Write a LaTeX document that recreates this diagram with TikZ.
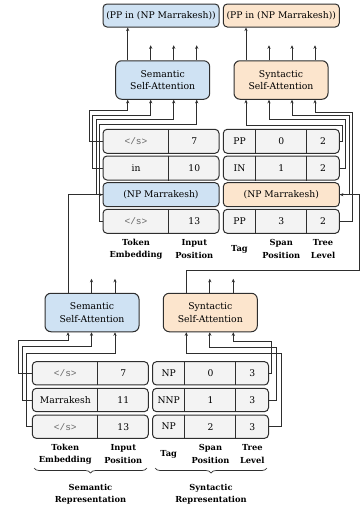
\documentclass[tikz,border=0pt]{standalone}
\usepackage{fontspec}
\setmainfont{DejaVu Serif}
\newfontfamily\monofont{Liberation Mono}
\usetikzlibrary{arrows.meta,decorations.pathreplacing}
\definecolor{semblue}{HTML}{CFE2F3}
\definecolor{synorange}{HTML}{FCE5CD}
\definecolor{rowgrey}{HTML}{F3F3F3}
\definecolor{linecol}{HTML}{2E2E2E}
\definecolor{toktext}{HTML}{666666}
\begin{document}
\begin{tikzpicture}[x=1pt,y=-1pt,
  cellbox/.style={draw=linecol, line width=1pt, rounded corners=4pt, inner sep=0pt, minimum width=116pt, minimum height=24pt, font=\fontsize{9.2}{11}\selectfont},
  rowbox/.style={cellbox, fill=rowgrey},
  lrowbox/.style={rowbox, minimum height=23.3pt},
  attn/.style={draw=linecol, line width=1pt, rounded corners=6pt, minimum width=94pt, minimum height=38.5pt, inner sep=0pt, align=center, font=\fontsize{9.3}{12.7}\selectfont},
  txt/.style={inner sep=0pt, font=\fontsize{9.2}{11}\selectfont},
  tok/.style={inner sep=0pt, font=\monofont\fontsize{9.5}{11}\selectfont, text=toktext},
  lab/.style={inner sep=0pt, align=center, font=\bfseries\fontsize{8.3}{12.3}\selectfont},
  wire/.style={draw=linecol, line width=0.9pt},
  arr/.style={wire, -{Stealth[length=3.6pt,width=3.2pt]}},
  divider/.style={draw=linecol, line width=0.9pt},
  bracestyle/.style={draw=linecol, line width=0.7pt, decorate, decoration={brace, amplitude=5pt, mirror}},
]
\useasboundingbox (0,0) rectangle (363,506);

% ---------- upper top boxes ----------
\node[cellbox, fill=semblue, minimum height=23pt] (topsem) at (161,15.5) {(PP in (NP Marrakesh))};
\node[cellbox, fill=synorange, minimum height=23pt] (topsyn) at (281.3,15.5) {(PP in (NP Marrakesh))};

% ---------- upper self-attention ----------
\node[attn, fill=semblue] (usem) at (162.7,80) {Semantic\\Self-Attention};
\node[attn, fill=synorange] (usyn) at (281,80) {Syntactic\\Self-Attention};

\foreach \i/\d in {1/12.5,2/35.5,3/58.5,4/81.5}{
  \coordinate (usemi\i) at ([xshift=\d pt]usem.south west);
  \coordinate (usemo\i) at ([xshift=\d pt]usem.north west);
  \coordinate (usemt\i) at ([xshift=\d pt,yshift=15pt]usem.north west);
  \coordinate (usyni\i) at ([xshift=\d pt]usyn.south west);
  \coordinate (usyno\i) at ([xshift=\d pt]usyn.north west);
  \coordinate (usynt\i) at ([xshift=\d pt,yshift=15pt]usyn.north west);
}
\draw[arr] (usemo1) -- (usemo1 |- topsem.south);
\draw[arr] (usyno1) -- (usyno1 |- topsyn.south);
\foreach \i in {2,3,4}{
  \draw[arr] (usemo\i) -- (usemt\i);
  \draw[arr] (usyno\i) -- (usynt\i);
}

% ---------- upper left table ----------
\node[rowbox] (u1) at (161,141.3) {};
\node[rowbox] (u2) at (161,168) {};
\node[cellbox, fill=semblue] (u3) at (161,194.7) {(NP Marrakesh)};
\node[rowbox] (u4) at (161,221.3) {};
\foreach \r in {u1,u2,u4}{
  \draw[divider] ([xshift=66pt]\r.north west) -- ([xshift=66pt]\r.south west);
}
\node[tok] (u1a) at (136,141.3) {</s>};
\node[txt] (u1b) at (194.3,141.3) {7};
\node[txt] (u2a) at (136,168) {in};
\node[txt] (u2b) at (194.3,168) {10};
\node[tok] (u4a) at (136,221.3) {</s>};
\node[txt] (u4b) at (194.3,221.3) {13};

% ---------- upper right table ----------
\node[rowbox] (r1) at (281.3,141.3) {};
\node[rowbox] (r2) at (281.3,168) {};
\node[cellbox, fill=synorange] (r3) at (281.3,194.7) {(NP Marrakesh)};
\node[rowbox] (r4) at (281.3,221.3) {};
\foreach \r in {r1,r2,r4}{
  \draw[divider] ([xshift=32.5pt]\r.north west) -- ([xshift=32.5pt]\r.south west);
  \draw[divider] ([xshift=83.5pt]\r.north west) -- ([xshift=83.5pt]\r.south west);
}
\node[txt] (r1a) at (239.5,141.3) {PP};
\node[txt] (r1b) at (281.3,141.3) {0};
\node[txt] (r1c) at (323,141.3) {2};
\node[txt] (r2a) at (239.5,168) {IN};
\node[txt] (r2b) at (281.3,168) {1};
\node[txt] (r2c) at (323,168) {2};
\node[txt] (r4a) at (239.5,221.3) {PP};
\node[txt] (r4b) at (281.3,221.3) {3};
\node[txt] (r4c) at (323,221.3) {2};

% ---------- upper labels ----------
\node[lab] (ul1) at (136,249) {Token\\Embedding};
\node[lab] (ul2) at (194.3,249) {Input\\Position};
\node[lab] (ul3) at (239.5,249) {Tag};
\node[lab] (ul4) at (281.3,249) {Span\\Position};
\node[lab] (ul5) at (323,249) {Tree\\Level};

% ---------- upper wires ----------
\draw[arr] (u1.west) -| (89,110.7) -| (usemi1);
\draw[arr] (u2.west) -| (92.7,115) -| (usemi2);
\draw[arr] (u3.west) -| (96,119.3) -| (usemi3);
\draw[arr] (u4.west) -| (99.7,124.3) -| (usemi4);

\draw[arr] (r1.east) -| (342.3,125) -| (usyni1);
\draw[arr] (r2.east) -| (345.7,119.3) -| (usyni2);
\draw[arr] (r3.east) -| (349,115.7) -| (usyni3);
\draw[arr] (r4.east) -| (352.3,112) -| (usyni4);

% ---------- lower self-attention ----------
\node[attn, fill=semblue] (lsem) at (92,312.5) {Semantic\\Self-Attention};
\node[attn, fill=synorange] (lsyn) at (210.3,312.5) {Syntactic\\Self-Attention};
\foreach \i/\d in {1/23.5,2/47,3/70.5}{
  \coordinate (lsemi\i) at ([xshift=\d pt]lsem.south west);
  \coordinate (lsemo\i) at ([xshift=\d pt]lsem.north west);
  \coordinate (lsemt\i) at ([xshift=\d pt,yshift=14pt]lsem.north west);
  \coordinate (lsyni\i) at ([xshift=\d pt]lsyn.south west);
  \coordinate (lsyno\i) at ([xshift=\d pt]lsyn.north west);
  \coordinate (lsynt\i) at ([xshift=\d pt,yshift=14pt]lsyn.north west);
}
\foreach \i in {2,3}{
  \draw[arr] (lsemo\i) -- (lsemt\i);
  \draw[arr] (lsyno\i) -- (lsynt\i);
}
\coordinate (feedturn) at (359,270.7);
\draw[arr] (lsemo1) |- (u3.west);
\draw[arr] (lsyno1) |- (feedturn) |- (r3.east);

% ---------- lower left table ----------
\node[lrowbox] (l1) at (90.3,373.3) {};
\node[lrowbox] (l2) at (90.3,400) {};
\node[lrowbox] (l3) at (90.3,426.7) {};
\foreach \r in {l1,l2,l3}{
  \draw[divider] ([xshift=66pt]\r.north west) -- ([xshift=66pt]\r.south west);
}
\node[tok] (l1a) at (65.3,373.3) {</s>};
\node[txt] (l1b) at (123.3,373.3) {7};
\node[txt] (l2a) at (65.3,400) {Marrakesh};
\node[txt] (l2b) at (123.3,400) {11};
\node[tok] (l3a) at (65.3,426.7) {</s>};
\node[txt] (l3b) at (123.3,426.7) {13};

% ---------- lower right table ----------
\node[lrowbox] (m1) at (210.5,373.3) {};
\node[lrowbox] (m2) at (210.5,400) {};
\node[lrowbox] (m3) at (210.5,426.7) {};
\foreach \r in {m1,m2,m3}{
  \draw[divider] ([xshift=32.5pt]\r.north west) -- ([xshift=32.5pt]\r.south west);
  \draw[divider] ([xshift=83.5pt]\r.north west) -- ([xshift=83.5pt]\r.south west);
}
\node[txt] (m1a) at (168.7,373.3) {NP};
\node[txt] (m1b) at (210.5,373.3) {0};
\node[txt] (m1c) at (252.3,373.3) {3};
\node[txt] (m2a) at (168.7,400) {NNP};
\node[txt] (m2b) at (210.5,400) {1};
\node[txt] (m2c) at (252.3,400) {3};
\node[txt] (m3a) at (168.7,426.7) {NP};
\node[txt] (m3b) at (210.5,426.7) {2};
\node[txt] (m3c) at (252.3,426.7) {3};

% ---------- lower wires ----------
\draw[arr] (l1.west) -| (18.5,340) -| (lsemi1);
\draw[arr] (l2.west) -| (22.5,346.3) -| (lsemi2);
\draw[arr] (l3.west) -| (26.5,353) -| (lsemi3);

\draw[arr] (m3.east) -| (281.7,353.3) -| (lsyni1);
\draw[arr] (m2.east) -| (276.7,347.7) -| (lsyni2);
\draw[arr] (m1.east) -| (271.7,341.7) -| (lsyni3);

% ---------- lower labels ----------
\node[lab] (ll1) at (65.3,454) {Token\\Embedding};
\node[lab] (ll2) at (123.3,454) {Input\\Position};
\node[lab] (ll3) at (168.7,454) {Tag};
\node[lab] (ll4) at (210.5,454) {Span\\Position};
\node[lab] (ll5) at (252.3,454) {Tree\\Level};

\coordinate (bsa) at (34,468);
\coordinate (bsb) at (147,468);
\coordinate (bya) at (155,468);
\coordinate (byb) at (267,468);
\draw[bracestyle] (bsa) -- (bsb);
\draw[bracestyle] (bya) -- (byb);
\node[lab] (semrep) at (90.5,494) {Semantic\\Representation};
\node[lab] (synrep) at (211,494) {Syntactic\\Representation};
\end{tikzpicture}
\end{document}
